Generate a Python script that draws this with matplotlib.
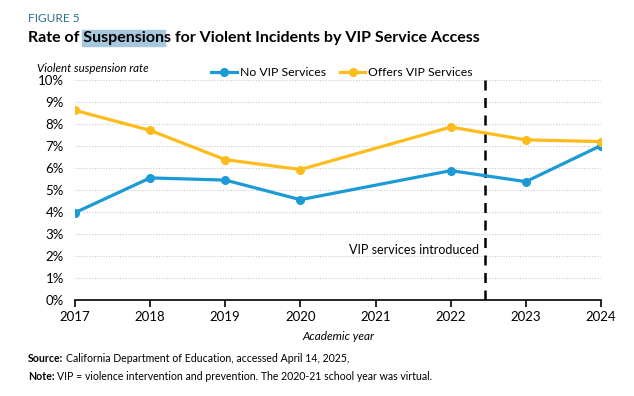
import matplotlib
matplotlib.use("Agg")
import matplotlib.pyplot as plt
from matplotlib.patches import Rectangle

plt.rcParams['font.family'] = ['Lato', 'DejaVu Sans']

# Données (2020-21 virtuel, pas de point en 2021)
years = [2017, 2018, 2019, 2020, 2022, 2023, 2024]
no_vip = [3.97, 5.55, 5.45, 4.56, 5.88, 5.38, 7.02]
offers_vip = [8.62, 7.71, 6.38, 5.93, 7.86, 7.28, 7.2]
tick_years = list(range(2017, 2025))
y_ticks = list(range(0, 11))
intro_year = 2022.45

blue = "#1b9ad6"
yellow = "#fcbc1b"

fig = plt.figure(figsize=(6.34, 3.96), dpi=100)
ax = fig.add_axes([75 / 634, 1 - 300 / 396, 526 / 634, 220 / 396])

ax.plot(years, no_vip, color=blue, lw=2.3, marker="o", ms=5.5, label="No VIP Services", zorder=3)
ax.plot(years, offers_vip, color=yellow, lw=2.3, marker="o", ms=5.5, label="Offers VIP Services", zorder=3)

ax.axvline(intro_year, color="black", lw=1.8, ls=(0, (4, 3)), zorder=2)
ax.text(intro_year - 0.07, 2.25, "VIP services introduced", ha="right", va="center", fontsize=9)

ax.set_xlim(2017, 2024)
ax.set_ylim(0, 10)
ax.set_xticks(tick_years)
ax.set_yticks(y_ticks)
ax.set_yticklabels([f"{v}%" for v in y_ticks])
ax.yaxis.grid(True, color="#c8c8c8", ls=(0, (1, 1.5)), lw=0.8)
ax.set_axisbelow(True)
for s in ["top", "right", "left"]:
    ax.spines[s].set_visible(False)
ax.spines["bottom"].set_linewidth(1.2)
ax.tick_params(axis="y", length=0, labelsize=9.5, pad=8)
ax.tick_params(axis="x", length=5, width=1.2, direction="out", labelsize=9.5, pad=3)
ax.set_xlabel("Academic year", fontsize=8.5, style="italic", labelpad=6)

ax.legend(loc="lower center", bbox_to_anchor=(0.508, 0.985), ncol=2, frameon=False,
          fontsize=8.8, handlelength=2.1, columnspacing=1.1, handletextpad=0.25, borderaxespad=0)

fig.text(37 / 634, 1 - 68 / 396, "Violent suspension rate", fontsize=8.3, style="italic", va="center")

fig.text(28 / 634, 1 - 19 / 396, "FIGURE 5", fontsize=8.6, color="#2b6f8e", va="center")
title_fs = 11.5
title = fig.text(28 / 634, 1 - 38 / 396, "Rate of Suspensions for Violent Incidents by VIP Service Access",
                 fontsize=title_fs, fontweight="bold", va="center", zorder=3)

# surlignage de "Suspension"
fig.canvas.draw()
r = fig.canvas.get_renderer()
pre = fig.text(0, 0, "Rate of ", fontsize=title_fs, fontweight="bold")
mid = fig.text(0, 0, "Rate of Suspension", fontsize=title_fs, fontweight="bold")
w_pre = pre.get_window_extent(r).width
w_mid = mid.get_window_extent(r).width
pre.remove()
mid.remove()
tb = title.get_window_extent(r)
x0 = tb.x0 + w_pre - 1
fig.patches.append(Rectangle((x0 / fig.bbox.width, (tb.y0 - 1) / fig.bbox.height),
                             (w_mid - w_pre + 2) / fig.bbox.width, (tb.height + 2) / fig.bbox.height,
                             transform=fig.transFigure, color="#a7c7df", zorder=1))

# notes en bas
notes = [
    (358, "Source:", "California Department of Education, accessed April 14, 2025,"),
    (377, "Note:", "VIP = violence intervention and prevention. The 2020-21 school year was virtual."),
]
for y, head, body in notes:
    h = fig.text(28 / 634, 1 - y / 396, head, fontsize=7.6, fontweight="bold", va="center")
    fig.canvas.draw()
    hb = h.get_window_extent(fig.canvas.get_renderer())
    fig.text((hb.x1 + 2.5) / fig.bbox.width, 1 - y / 396, body, fontsize=7.6, va="center")

fig.savefig("out.png", dpi=100)
